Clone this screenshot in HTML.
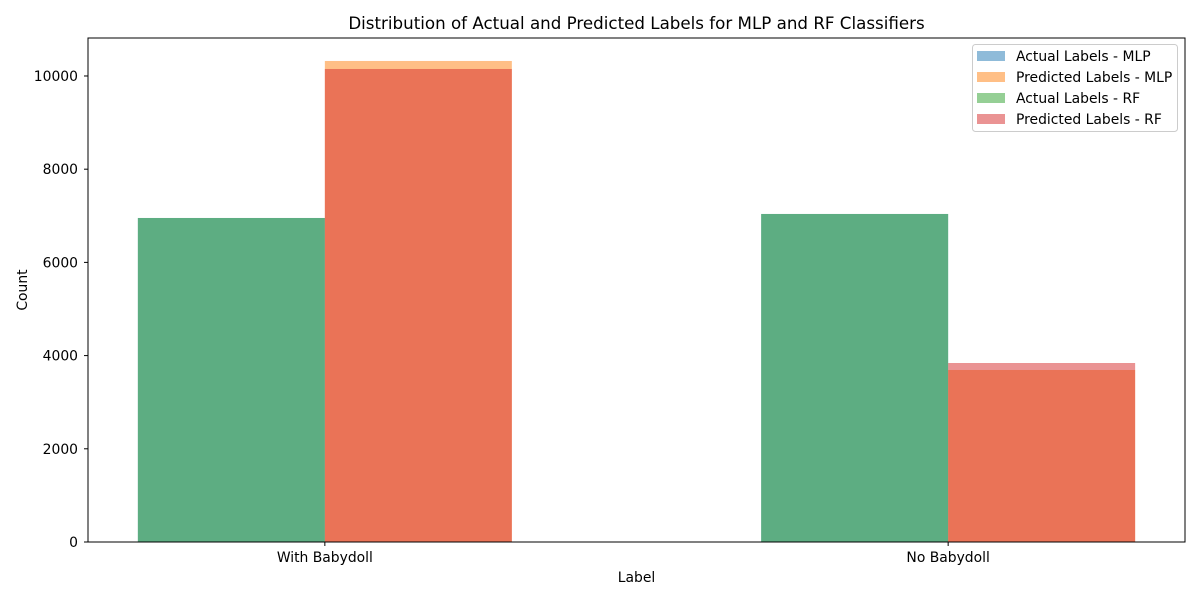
<!DOCTYPE html>
<html><head><meta charset="utf-8"><style>
body{margin:0;background:#fff;}
svg{display:block;font-family:"DejaVu Sans","Liberation Sans",sans-serif;}
</style></head><body>
<svg id="chart" width="1200" height="600"></svg>
<script>
const categories = ["With Babydoll", "No Babydoll"];
const actualMLP = [6953, 7039];
const predictedMLP = [10322, 3691];
const actualRF = [6953, 7039];
const predictedRF = [10150, 3841];
const yTicks = [0, 2000, 4000, 6000, 8000, 10000];
const seriesNames = ["Actual Labels - MLP", "Predicted Labels - MLP", "Actual Labels - RF", "Predicted Labels - RF"];

const NS = "http://www.w3.org/2000/svg";
const svg = document.getElementById("chart");
const L = 88, R = 1185, T = 38, B = 542;
const xMin = -0.38, xMax = 1.38, yMin = 0, yMax = 10815;
const xs = v => L + (v - xMin) / (xMax - xMin) * (R - L);
const ys = v => B - (v - yMin) / (yMax - yMin) * (B - T);
function el(tag, attrs, parent) {
  const e = document.createElementNS(NS, tag);
  for (const k in attrs) e.setAttribute(k, attrs[k]);
  (parent || svg).appendChild(e);
  return e;
}
const colors = ["#1f77b4", "#ff7f0e", "#2ca02c", "#d62728"];
const series = [actualMLP, predictedMLP, actualRF, predictedRF];
const offsets = [-0.15, 0.15, -0.15, 0.15];
const w = 0.3;
series.forEach((s, si) => {
  s.forEach((v, i) => {
    const c = i + offsets[si];
    const r = el("rect", {x: xs(c - w / 2), y: ys(v), width: xs(c + w / 2) - xs(c - w / 2), height: ys(0) - ys(v), fill: colors[si], "fill-opacity": 0.5});
    
    
  });
});
const frame = el("rect", {x: L, y: T, width: R - L, height: B - T, fill: "none", stroke: "#000", "stroke-width": 1});


yTicks.forEach(t => {
  el("line", {x1: L - 4, x2: L, y1: ys(t), y2: ys(t), stroke: "#000"});
  const tx = el("text", {x: L - 10, y: ys(t) + 5, "text-anchor": "end", "font-size": 13.9});
  tx.textContent = t;
  
  
});
categories.forEach((c, i) => {
  el("line", {x1: xs(i), x2: xs(i), y1: B, y2: B + 4, stroke: "#000"});
  const tx = el("text", {x: xs(i), y: B + 20, "text-anchor": "middle", "font-size": 13.9});
  tx.textContent = c;
  
  
});
const title = el("text", {x: (L + R) / 2, y: 29, "text-anchor": "middle", "font-size": 16.7});
title.textContent = "Distribution of Actual and Predicted Labels for MLP and RF Classifiers";


const xl = el("text", {x: (L + R) / 2, y: 582, "text-anchor": "middle", "font-size": 13.9});
xl.textContent = "Label";


const yl = el("text", {x: 27, y: (T + B) / 2, "text-anchor": "middle", "font-size": 13.9, transform: "rotate(-90 27 " + (T + B) / 2 + ")"});
yl.textContent = "Count";


const lg = el("g", {});


el("rect", {x: 972.5, y: 44.5, width: 205, height: 87, rx: 3, fill: "#fff", "fill-opacity": 0.8, stroke: "#ccc"}, lg);
seriesNames.forEach((n, i) => {
  const cy = 56 + i * 21;
  el("rect", {x: 977, y: cy - 5, width: 28, height: 10, fill: colors[i], "fill-opacity": 0.5}, lg);
  const tx = el("text", {x: 1016, y: cy + 5, "font-size": 13.9}, lg);
  tx.textContent = n;
  
  
});
</script>
</body></html>
